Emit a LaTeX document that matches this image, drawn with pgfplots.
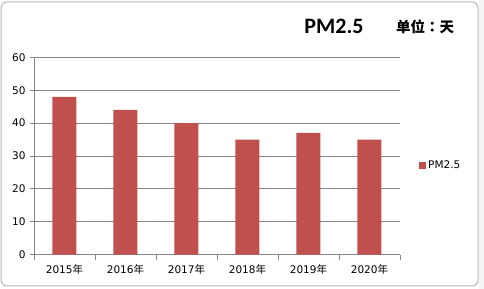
\documentclass[border=0pt]{standalone}
\usepackage{fontspec}
\usepackage{pgfplots}
\pgfplotsset{compat=1.18}
\setmainfont{DejaVu Sans}
\newfontfamily\cjk{Noto Sans CJK SC}
\newfontfamily\cjkjp{Noto Sans CJK JP}
\newfontfamily\carlito{Carlito}
\definecolor{barred}{HTML}{C0504D}
\definecolor{gridgray}{HTML}{868686}
\begin{document}
\begin{tikzpicture}
\useasboundingbox (0,0) rectangle (484bp,289bp);
\fill[white] (0,0) rectangle (484bp,289bp);
\fill[gray!8] (479bp,0) rectangle (484bp,289bp);
\draw[color=gray!55, line width=1bp, rounded corners=6bp, fill=white] (1bp,3bp) rectangle (478bp,287bp);
\begin{axis}[
  at={(34bp,34.3bp)}, anchor=south west,
  scale only axis, width=366bp, height=197.4bp,
  xmin=-0.5, xmax=5.5, ymin=0, ymax=60,
  ytick={0,10,...,60},
  xtick={0,...,5},
  xticklabels={2015{\cjk 年},2016{\cjk 年},2017{\cjk 年},2018{\cjk 年},2019{\cjk 年},2020{\cjk 年}},
  minor xtick={-0.5,0.5,...,5.5},
  major x tick style={draw=none},
  minor x tick style={gridgray, line width=0.8bp},
  y tick style={gridgray, line width=0.8bp},
  tick align=outside,
  major tick length=4bp, minor tick length=5bp,
  ymajorgrids, grid style={gridgray, line width=0.8bp},
  axis x line*=bottom, axis y line*=left,
  axis line style={gridgray, line width=0.8bp, -},
  /pgf/number format/assume math mode=true,
  tick label style={font=\fontsize{10.5bp}{12bp}\selectfont, text=black},
  xticklabel style={yshift=-2bp},
  yticklabel style={xshift=-1bp},
  ybar, bar width=24bp,
  legend style={at={(1.052,0.454)}, anchor=west, draw=none, fill=none, inner sep=0pt,
    font=\fontsize{10.5bp}{12bp}\selectfont},
  legend image code/.code={\fill[barred] (0bp,-3.5bp) rectangle (7bp,3.5bp);},
]
\addplot[fill=barred, draw=none] coordinates {(0,48) (1,44) (2,40) (3,35) (4,37) (5,35)};
\addlegendentry{PM2.5}
\end{axis}
\node[font=\carlito\bfseries\fontsize{22bp}{24bp}\selectfont] at (334bp,263bp) {PM2.5};
\node[font=\cjk\bfseries\fontsize{14.5bp}{16bp}\selectfont] at (425bp,262bp) {单位{\cjkjp ：}天};
\end{tikzpicture}
\end{document}
